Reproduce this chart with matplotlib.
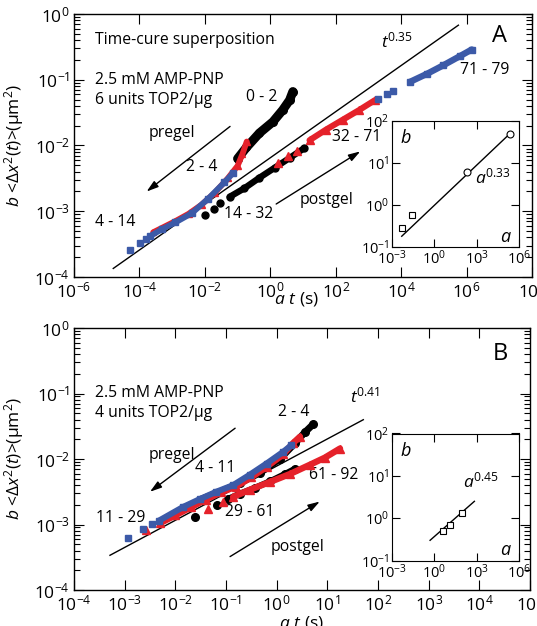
import numpy as np
import matplotlib.pyplot as plt
from matplotlib.ticker import LogLocator, NullLocator, FixedLocator

plt.rcParams['font.family'] = ['Open Sans', 'DejaVu Sans']
plt.rcParams['mathtext.fontset'] = 'custom'
plt.rcParams['mathtext.rm'] = 'Open Sans'
plt.rcParams['mathtext.it'] = 'Open Sans:italic'
plt.rcParams['mathtext.bf'] = 'Open Sans:bold'

# ---- panel A data (log10 of a*t, log10 of b*MSD) ----
A_blue_414_t = [-4.29, -3.99, -3.81, -3.68, -3.30, -2.90, -2.40, -1.90, -1.40, -1.14]
A_blue_414_y = [-3.59, -3.48, -3.42, -3.38, -3.27, -3.17, -3.03, -2.81, -2.56, -2.42]
A_red_24_t = [-3.58, -3.30, -2.90, -2.50, -2.10, -1.70, -1.30, -1.00, -0.85, -0.72]
A_red_24_y = [-3.32, -3.25, -3.15, -3.04, -2.90, -2.72, -2.50, -2.31, -2.13, -1.94]
A_black_02_t = [-1.00, -0.73, -0.33, 0.08, 0.38, 0.59, 0.69]
A_black_02_y = [-2.20, -2.03, -1.81, -1.64, -1.46, -1.31, -1.18]
A_black_1432_t = [-2.01, -1.72, -1.55, -1.24, -0.79, -0.33, 0.13, 0.59, 1.04]
A_black_1432_y = [-3.06, -2.96, -2.88, -2.78, -2.65, -2.49, -2.34, -2.19, -2.04]
A_red_3271_t = [0.25, 0.55, 0.81, 1.20, 1.70, 2.21, 2.72, 3.20]
A_red_3271_y = [-2.27, -2.16, -2.08, -1.92, -1.76, -1.61, -1.46, -1.31]
A_blue_7179_t = [3.28, 3.56, 3.76, 4.28, 4.79, 5.29, 5.80, 6.16]
A_blue_7179_y = [-1.29, -1.22, -1.17, -1.03, -0.91, -0.78, -0.64, -0.54]
A_fit_t = [-4.80, 5.75]
A_fit_y = [-3.87, -0.17]

# inset A: shift factors
A_sq_a = [0.005, 0.026]
A_sq_b = [0.28, 0.56]
A_ci_a = [200, 2.3e5]
A_ci_b = [6.0, 49.0]
A_ins_fit_a = [0.0049, 2.3e5]
A_ins_fit_b = [0.18, 49.0]

# ---- panel B data ----
B_blue_1129_t = [-2.94, -2.63, -2.46, -2.32, -1.84, -1.51, -1.19, -0.86, -0.53, -0.20, 0.13, 0.29]
B_blue_1129_y = [-3.20, -3.07, -2.99, -2.94, -2.73, -2.61, -2.50, -2.40, -2.24, -2.07, -1.89, -1.79]
B_red_411_t = [-2.57, -2.30, -2.00, -1.70, -1.40, -1.10, -0.80, -0.50, -0.20, 0.13, 0.32, 0.46]
B_red_411_y = [-3.09, -2.98, -2.86, -2.74, -2.62, -2.51, -2.42, -2.28, -2.12, -1.93, -1.76, -1.66]
B_black_24_t = [-1.51, -1.12, -0.73, -0.33, 0.06, 0.36, 0.56, 0.72]
B_black_24_y = [-2.62, -2.50, -2.37, -2.21, -2.00, -1.76, -1.59, -1.47]
B_black_2961_t = [-1.61, -1.17, -0.96, -0.73, -0.43, -0.13, 0.16, 0.36]
B_black_2961_y = [-2.88, -2.70, -2.61, -2.53, -2.44, -2.34, -2.23, -2.15]
B_red_6192_t = [-1.35, -1.06, -0.86, -0.53, -0.13, 0.26, 0.65, 0.95, 1.25]
B_red_6192_y = [-2.77, -2.65, -2.58, -2.47, -2.35, -2.23, -2.09, -1.98, -1.84]
B_fit_t = [-3.29, 1.71]
B_fit_y = [-3.47, -1.40]

B_sq_a = [4.0, 12.3, 87.0]
B_sq_b = [0.50, 0.69, 1.29]
B_ins_fit_a = [0.5, 690.0]
B_ins_fit_b = [0.30, 2.5]

BLUE = '#3c5aa8'
RED = '#e5212a'
BLACK = '#000000'


def series(ax, t, y, color, marker, ms, lw, dense_from=0, z=3):
    t = 10 ** np.asarray(t)
    y = 10 ** np.asarray(y)
    ax.plot(t, y, ls='none', marker=marker, ms=ms, color=color, mec=color, zorder=z)
    if len(t) - dense_from > 1:
        ax.plot(t[dense_from:], y[dense_from:], '-', color=color, lw=lw,
                solid_capstyle='round', zorder=z)


def style_main(ax, xlo, xhi, xstep):
    ax.set_xscale('log')
    ax.set_yscale('log')
    ax.set_xlim(10.0 ** xlo, 10.0 ** xhi)
    ax.set_ylim(1e-4, 1)
    ax.xaxis.set_major_locator(FixedLocator([10.0 ** k for k in range(xlo, xhi + 1, xstep)]))
    ax.xaxis.set_minor_locator(NullLocator())
    ax.yaxis.set_major_locator(FixedLocator([10.0 ** k for k in range(-4, 1)]))
    ax.yaxis.set_minor_locator(LogLocator(base=10, subs=range(2, 10), numticks=20))
    ax.tick_params(which='both', direction='in', top=True, right=True, labelsize=12.5, width=0.8)
    ax.tick_params(which='major', length=7, pad=3)
    ax.tick_params(which='minor', length=4)
    for s in ax.spines.values():
        s.set_linewidth(1.0)
    ax.set_ylabel(r'$b$ <$\Delta x^2(t)$>(μm$^2$)', fontsize=12.5)
    ax.yaxis.set_label_coords(-0.105, 0.5)


def style_inset(ax):
    ax.set_xscale('log')
    ax.set_yscale('log')
    ax.set_xlim(1e-3, 1e6)
    ax.set_ylim(0.1, 100)
    ax.xaxis.set_major_locator(FixedLocator([1e-3, 1, 1e3, 1e6]))
    ax.yaxis.set_major_locator(FixedLocator([0.1, 1, 10, 100]))
    ax.xaxis.set_minor_locator(NullLocator())
    ax.yaxis.set_minor_locator(NullLocator())
    ax.tick_params(direction='in', top=True, right=True, length=6, labelsize=10.5, pad=2)
    ax.text(0.07, 0.86, 'b', transform=ax.transAxes, fontsize=13, style='italic', va='center')
    ax.text(0.93, 0.08, 'a', transform=ax.transAxes, fontsize=13, style='italic', va='center', ha='right')


def arrow(ax, tail, head):
    ax.annotate('', xy=(10 ** head[0], 10 ** head[1]), xytext=(10 ** tail[0], 10 ** tail[1]),
                arrowprops=dict(arrowstyle='-|>,head_length=0.7,head_width=0.22',
                                color='black', lw=1.0, shrinkA=0, shrinkB=0))


fig = plt.figure(figsize=(5.37, 6.26), dpi=100)
axA = fig.add_axes([74 / 537, 1 - 277 / 626, 458 / 537, 263 / 626])
axB = fig.add_axes([74 / 537, 1 - 590 / 626, 456 / 537, 262 / 626])
insA = fig.add_axes([392 / 537, 1 - 247 / 626, 127 / 537, 126.5 / 626])
insB = fig.add_axes([392 / 537, 1 - 560.5 / 626, 127 / 537, 127 / 626])

# ---- panel A ----
style_main(axA, -6, 8, 2)
axA.plot(10 ** np.array(A_fit_t), 10 ** np.array(A_fit_y), color='black', lw=1.0, zorder=2)
series(axA, A_black_02_t, A_black_02_y, BLACK, 'o', 5.5, 6.5, 0, z=3)
series(axA, A_red_24_t, A_red_24_y, RED, '^', 5, 4.2, 0, z=4)
series(axA, A_blue_414_t, A_blue_414_y, BLUE, 's', 4.4, 4.2, 3, z=5)
series(axA, A_black_1432_t, A_black_1432_y, BLACK, 'o', 5, 4.6, 3, z=3)
series(axA, A_red_3271_t, A_red_3271_y, RED, '^', 5.5, 4.4, 3, z=4)
series(axA, A_blue_7179_t, A_blue_7179_y, BLUE, 's', 4.6, 4.6, 3, z=5)
arrow(axA, (-1.23, -1.71), (-3.78, -2.70))
arrow(axA, (0.18, -2.89), (2.75, -2.09))

tA = dict(transform=axA.transAxes, fontsize=11.3, va='center')
axA.text(0.046, 0.901, 'Time-cure superposition', **tA)
axA.text(0.046, 0.749, '2.5 mM AMP-PNP', **tA)
axA.text(0.046, 0.673, '6 units TOP2/μg', **tA)
axA.text(0.214, 0.548, 'pregel', ha='center', **tA)
axA.text(0.410, 0.683, '0 - 2', ha='center', **tA)
axA.text(0.279, 0.420, '2 - 4', ha='center', **tA)
axA.text(0.0895, 0.210, '4 - 14', ha='center', **tA)
axA.text(0.381, 0.240, '14 - 32', ha='center', **tA)
axA.text(0.617, 0.533, '32 - 71', ha='center', **tA)
axA.text(0.897, 0.787, '71 - 79', ha='center', **tA)
axA.text(0.552, 0.293, 'postgel', ha='center', **tA)
axA.text(0.705, 0.895, r'$t^{0.35}$', ha='center', transform=axA.transAxes, fontsize=12.5, va='center')
axA.text(0.930, 0.915, 'A', ha='center', transform=axA.transAxes, fontsize=17, va='center')
axA.set_xlabel(r'$a\ t$ (s)', fontsize=12.5)
axA.xaxis.set_label_coords(0.485, -0.05)

# inset A
style_inset(insA)
insA.plot(A_ins_fit_a, A_ins_fit_b, color='black', lw=1.0)
insA.plot(A_sq_a, A_sq_b, 's', ms=4, mfc='white', mec='black', mew=0.8)
insA.plot(A_ci_a, A_ci_b, 'o', ms=5, mfc='white', mec='black', mew=0.8)
insA.text(0.65, 0.55, r'$a^{0.33}$', transform=insA.transAxes, fontsize=12.5, va='center')

# ---- panel B ----
style_main(axB, -4, 5, 1)
axB.plot(10 ** np.array(B_fit_t), 10 ** np.array(B_fit_y), color='black', lw=1.0, zorder=2)
series(axB, B_black_24_t, B_black_24_y, BLACK, 'o', 5.5, 5.0, 0, z=3)
series(axB, B_red_411_t, B_red_411_y, RED, '^', 5.5, 4.6, 1, z=4)
series(axB, B_blue_1129_t, B_blue_1129_y, BLUE, 's', 4.6, 4.4, 3, z=5)
series(axB, B_black_2961_t, B_black_2961_y, BLACK, 'o', 5.5, 4.4, 2, z=3)
series(axB, B_red_6192_t, B_red_6192_y, RED, '^', 5.5, 4.6, 2, z=4)
arrow(axB, (-0.82, -1.53), (-2.50, -2.50))
arrow(axB, (-0.92, -3.49), (0.85, -2.65))

tB = dict(transform=axB.transAxes, fontsize=11.3, va='center')
axB.text(0.046, 0.751, '2.5 mM AMP-PNP', **tB)
axB.text(0.046, 0.674, '4 units TOP2/μg', **tB)
axB.text(0.215, 0.515, 'pregel', ha='center', **tB)
axB.text(0.309, 0.464, '4 - 11', ha='center', **tB)
axB.text(0.103, 0.274, '11 - 29', ha='center', **tB)
axB.text(0.386, 0.298, '29 - 61', ha='center', **tB)
axB.text(0.481, 0.681, '2 - 4', ha='center', **tB)
axB.text(0.570, 0.439, '61 - 92', ha='center', **tB)
axB.text(0.491, 0.165, 'postgel', ha='center', **tB)
axB.text(0.638, 0.738, r'$t^{0.41}$', ha='center', transform=axB.transAxes, fontsize=12.5, va='center')
axB.text(0.934, 0.900, 'B', ha='center', transform=axB.transAxes, fontsize=17, va='center')
axB.set_xlabel(r'$a\ t$ (s)', fontsize=12.5)
axB.xaxis.set_label_coords(0.498, -0.09)

# inset B
style_inset(insB)
insB.plot(B_ins_fit_a, B_ins_fit_b, color='black', lw=1.0)
insB.plot(B_sq_a, B_sq_b, 's', ms=4, mfc='white', mec='black', mew=0.8)
insB.text(0.56, 0.62, r'$a^{0.45}$', transform=insB.transAxes, fontsize=12.5, va='center')

fig.savefig('out.png', dpi=100)
